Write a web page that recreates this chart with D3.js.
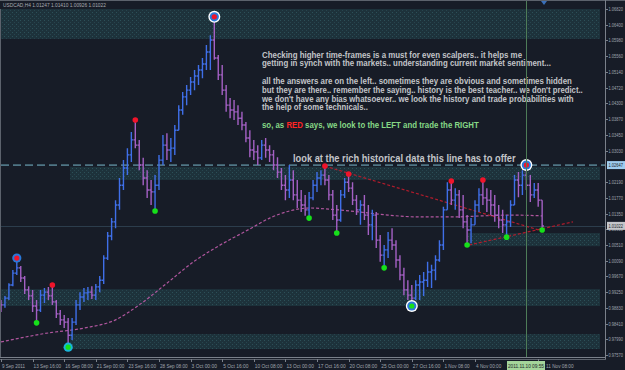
<!DOCTYPE html>
<html>
<head>
<meta charset="utf-8">
<script src="https://cdn.jsdelivr.net/npm/d3@7/dist/d3.min.js"></script>
<style>
body{margin:0;background:#171c27;overflow:hidden;}
svg text{font-family:"Liberation Sans",Arial,sans-serif;}
</style>
</head>
<body>
<div id="chart"></div>
<script>
/****************************** data ***************************************/
var symbolInfo = "USDCAD,H4  1.01247 1.01410 1.00926 1.01022";

// one entry per 8 hours, bar i sits on H4 slot 2*i (slot 0 = 9 Sep 2011 00:00)
var firstOpen = 0.9898;
var highs = [
 0.9904,0.9915,0.9949,0.9984,1.0016,0.9995,0.9968,0.9941,0.9931,0.9904,
 0.9931,0.9936,0.9939,0.9944,0.9904,0.9877,0.9864,0.9856,0.9856,0.9904,
 0.9925,0.9936,0.9939,0.9941,0.9947,0.9968,1.0024,1.0086,1.0123,1.0171,
 1.0230,1.0278,1.0310,1.0353,1.0385,1.0332,1.0284,1.0251,1.0225,1.0238,
 1.0292,1.0345,1.0350,1.0337,1.0372,1.0425,1.0460,1.0479,1.0500,1.0519,
 1.0532,1.0551,1.0586,1.0612,1.0661,1.0559,1.0532,1.0479,1.0444,1.0439,
 1.0425,1.0407,1.0380,1.0358,1.0332,1.0318,1.0332,1.0337,1.0318,1.0305,
 1.0286,1.0257,1.0238,1.0265,1.0251,1.0225,1.0198,1.0185,1.0193,1.0225,
 1.0246,1.0251,1.0262,1.0238,1.0198,1.0158,1.0198,1.0230,1.0241,1.0219,
 1.0185,1.0171,1.0185,1.0158,1.0145,1.0139,1.0078,1.0051,1.0086,1.0096,
 1.0064,1.0024,0.9990,0.9957,0.9944,0.9957,0.9971,0.9979,1.0006,0.9998,
 1.0024,1.0064,1.0153,1.0219,1.0222,1.0203,1.0198,1.0185,1.0131,1.0123,
 1.0171,1.0203,1.0225,1.0203,1.0198,1.0185,1.0158,1.0145,1.0131,1.0171,
 1.0238,1.0246,1.0251,1.0265,1.0238,1.0217,1.0217,1.0171];
var lows = [
 0.9872,0.9883,0.9904,0.9941,0.9971,0.9952,0.9920,0.9904,0.9872,0.9843,
 0.9872,0.9896,0.9904,0.9891,0.9856,0.9837,0.9829,0.9778,0.9797,0.9837,
 0.9877,0.9899,0.9904,0.9907,0.9904,0.9925,0.9947,1.0011,1.0064,1.0096,
 1.0145,1.0198,1.0238,1.0273,1.0310,1.0251,1.0211,1.0177,1.0158,1.0142,
 1.0198,1.0265,1.0278,1.0273,1.0292,1.0358,1.0399,1.0425,1.0452,1.0465,
 1.0479,1.0497,1.0519,1.0519,1.0546,1.0492,1.0452,1.0407,1.0390,1.0385,
 1.0372,1.0358,1.0326,1.0286,1.0278,1.0265,1.0278,1.0284,1.0273,1.0251,
 1.0230,1.0198,1.0171,1.0177,1.0171,1.0150,1.0139,1.0129,1.0123,1.0171,
 1.0193,1.0211,1.0211,1.0171,1.0118,1.0083,1.0113,1.0177,1.0193,1.0158,
 1.0131,1.0105,1.0118,1.0078,1.0064,1.0043,1.0006,0.9990,1.0016,1.0038,
 0.9990,0.9957,0.9917,0.9904,0.9888,0.9904,0.9904,0.9915,0.9939,0.9936,
 0.9957,1.0006,1.0038,1.0145,1.0158,1.0145,1.0123,1.0096,1.0051,1.0056,
 1.0105,1.0139,1.0158,1.0139,1.0131,1.0113,1.0096,1.0083,1.0072,1.0099,
 1.0158,1.0179,1.0185,1.0198,1.0166,1.0177,1.0153,1.0091];
var closes = [
 0.9891,0.9909,0.9944,0.9976,0.9990,0.9963,0.9931,0.9915,0.9888,0.9877,
 0.9917,0.9925,0.9915,0.9899,0.9867,0.9851,0.9845,0.9810,0.9845,0.9891,
 0.9912,0.9923,0.9925,0.9917,0.9939,0.9957,1.0016,1.0075,1.0113,1.0158,
 1.0211,1.0257,1.0292,1.0332,1.0318,1.0265,1.0230,1.0198,1.0193,1.0211,
 1.0278,1.0318,1.0305,1.0310,1.0358,1.0412,1.0447,1.0465,1.0487,1.0503,
 1.0519,1.0535,1.0567,1.0599,1.0551,1.0506,1.0465,1.0425,1.0412,1.0407,
 1.0390,1.0372,1.0337,1.0305,1.0300,1.0284,1.0318,1.0305,1.0292,1.0265,
 1.0246,1.0211,1.0198,1.0225,1.0185,1.0171,1.0158,1.0145,1.0177,1.0211,
 1.0230,1.0238,1.0225,1.0185,1.0131,1.0118,1.0185,1.0219,1.0203,1.0171,
 1.0145,1.0158,1.0131,1.0105,1.0131,1.0064,1.0024,1.0038,1.0064,1.0051,
 1.0011,0.9971,0.9931,0.9917,0.9909,0.9944,0.9952,0.9957,0.9979,0.9984,
 1.0011,1.0051,1.0145,1.0198,1.0171,1.0185,1.0145,1.0113,1.0091,1.0105,
 1.0158,1.0185,1.0177,1.0171,1.0158,1.0131,1.0118,1.0105,1.0113,1.0158,
 1.0225,1.0211,1.0238,1.0211,1.0185,1.0198,1.0171,1.0102];

// moving average (H4 slot, price)
var maSlots  = [0, 24, 42, 58, 70, 84, 98, 110, 126, 136, 146, 156, 166, 182, 196, 212, 228, 244, 258, 274];
var maValues = [0.9792,0.9816,0.9829,0.9851,0.9891,0.9949,1.0008,1.0048,1.0094,1.0123,
                1.0142,1.0150,1.0147,1.0139,1.0131,1.0126,1.0126,1.0129,1.0131,1.0129];

// fractal marks (index into the bar arrays)
var peakBars = [4, 13, 34, 54, 82, 88, 114, 122, 133];
var ringedPeaks = [4, 54, 133];
var troughBars = [9, 17, 39, 78, 85, 97, 104, 118, 128, 137];
var ringedTroughs = [17, 104];

// support / resistance boxes
var zoneTop    = [1.0682, 1.0260, 1.0083, 0.9933, 0.9813];
var zoneBottom = [1.0602, 1.0225, 1.0048, 0.9888, 0.9773];
var zoneFrom   = [0, 35, 236.5, 0, 35];
var zoneTo     = [303.3, 303.3, 303.3, 303.3, 303.3];

// dashed red trend lines [slot, price]
var trendLines = [
 [[164, 1.0262], [275.6, 1.0086]],
 [[237, 1.0051], [289.6, 1.0113]]
];

var levelPrice = 1.02647;
var bidPrice = 1.01022;
var crossSlot = 266;
var crossLabel = "2011.11.10 09:55";

// 1.02610 sits under the level tag and is not shown
var priceTicks = [0.97570,0.97990,0.98410,0.98830,0.99250,0.99670,1.00090,1.00510,1.00930,1.01350,
                  1.01770,1.02190,1.03030,1.03450,1.03870,1.04300,1.04720,1.05140,1.05560,
                  1.05980,1.06400,1.06820];
var timeSlots  = [0,16,32,48,64,80,96,112,128,144,160,176,192,208,224,240,272];
var timeLabels = ["9 Sep 2011","13 Sep 16:00","16 Sep 08:00","21 Sep 00:00","23 Sep 16:00","28 Sep 08:00",
                  "3 Oct 00:00","5 Oct 16:00","10 Oct 08:00","13 Oct 00:00","17 Oct 16:00","20 Oct 08:00",
                  "25 Oct 00:00","27 Oct 16:00","1 Nov 08:00","4 Nov 00:00","11 Nov 08:00"];

var noteLines = [
 "Checking higher time-frames is a must for even scalpers.. it helps me",
 "getting in synch with the markets.. understanding current market sentiment...",
 "",
 "all the answers are on the left.. sometimes they are obvious and sometimes hidden",
 "but they are there.. remember the saying.. history is the best teacher.. we don't predict..",
 "we don't have any bias whatsoever.. we look the history and trade probabilities with",
 "the help of some technicals.."
];
var noteWidths = [260, 289, 0, 310, 321, 312, 106];

/****************************** draw chart ***************************************/
var width = 625,
	height = 370;

var svg = d3.select("#chart").append("svg")
	.attr("width", width)
	.attr("height", height)
	.style("background-color", "#171c27");

var x = d3.scaleLinear().domain([0, 306]).range([1, 605.35]);
var y = d3.scaleLinear().domain([0.9757, 1.0682]).range([355, 9]);

// squeeze a text horizontally so it spans w pixels (the screenshot is narrow)
function squeeze(sel, px, py, w) {
	sel.each(function(d, i) {
		var t = d3.select(this),
			ww = typeof w === "function" ? w(d, i) : w,
			xx = typeof px === "function" ? px(d, i) : px,
			yy = typeof py === "function" ? py(d, i) : py,
			k = ww / this.getComputedTextLength();
		t.attr("transform", "translate(" + xx + "," + yy + ") scale(" + k + ",1)");
	});
}

var defs = svg.append("defs");
var pat = defs.append("pattern").attr("id", "zoneDots")
	.attr("width", 4).attr("height", 4).attr("patternUnits", "userSpaceOnUse");
pat.append("rect").attr("width", 4).attr("height", 4).attr("fill", "#1d323b");
pat.append("rect").attr("x", 0).attr("y", 0).attr("width", 1).attr("height", 1).attr("fill", "#2c5058");
pat.append("rect").attr("x", 2).attr("y", 2).attr("width", 1).attr("height", 1).attr("fill", "#27454e");

var clip = defs.append("clipPath").attr("id", "plot");
clip.append("rect").attr("x", 1).attr("y", 9).attr("width", 604).attr("height", 348);

var plot = svg.append("g").attr("clip-path", "url(#plot)");

// zones
plot.selectAll(".zone")
	.data(zoneTop)
	.enter().append("rect")
	.attr("class", "zone")
	.attr("x", function(d, i) { return x(zoneFrom[i]); })
	.attr("width", function(d, i) { return x(zoneTo[i]) - x(zoneFrom[i]); })
	.attr("y", function(d) { return y(d); })
	.attr("height", function(d, i) { return y(zoneBottom[i]) - y(d); })
	.style("fill", "url(#zoneDots)");

// bid line and dashed level
plot.append("line")
	.attr("x1", 1).attr("x2", 605)
	.attr("y1", Math.round(y(bidPrice)) + 0.5).attr("y2", Math.round(y(bidPrice)) + 0.5)
	.style("stroke", "#2c3d4c").style("stroke-width", 1);
plot.append("line")
	.attr("x1", 1).attr("x2", 605)
	.attr("y1", y(levelPrice)).attr("y2", y(levelPrice))
	.style("stroke", "#4f7585").style("stroke-width", 1.6)
	.style("stroke-dasharray", "8,4");

// moving average
var maLine = d3.line()
	.x(function(d, i) { return x(maSlots[i]); })
	.y(function(d) { return y(d); })
	.curve(d3.curveMonotoneX);
plot.append("path")
	.datum(maValues)
	.attr("d", maLine)
	.style("fill", "none")
	.style("stroke", "#b0569e")
	.style("stroke-width", 1.2)
	.style("stroke-dasharray", "3,2");

// trend lines
plot.selectAll(".trend")
	.data(trendLines)
	.enter().append("line")
	.attr("class", "trend")
	.attr("x1", function(d) { return x(d[0][0]); })
	.attr("y1", function(d) { return y(d[0][1]); })
	.attr("x2", function(d) { return x(d[1][0]); })
	.attr("y2", function(d) { return y(d[1][1]); })
	.style("stroke", "#b01c2c")
	.style("stroke-width", 1.2)
	.style("stroke-dasharray", "3,2");

// bars
var bars = closes.map(function(c, i) {
	return {slot: i * 2, o: i ? closes[i - 1] : firstOpen, h: highs[i], l: lows[i], c: c};
});
plot.selectAll(".bar")
	.data(bars)
	.enter().append("path")
	.attr("class", "bar")
	.style("fill", "none")
	.style("stroke", function(d) { return d.c >= d.o ? "#3f6fe8" : "#a460c4"; })
	.style("stroke-width", 1.4)
	.attr("d", function(d) {
		var cx = x(d.slot);
		return "M" + cx + "," + y(d.h) + "V" + y(d.l)
			+ "M" + (cx - 1.8) + "," + y(d.o) + "H" + cx
			+ "M" + cx + "," + y(d.c) + "H" + (cx + 1.8);
	});

// ringed fractals
function ring(list, arr, fill) {
	var g = plot.selectAll(null)
		.data(list)
		.enter().append("g")
		.attr("transform", function(k) { return "translate(" + x(k * 2) + "," + y(arr[k]) + ")"; });
	g.append("circle").attr("r", 6).style("fill", function(k) { return k === 4 || k === 17 ? "none" : "#ffffff"; });
	g.append("circle").attr("r", 4.6).style("fill", function(k) { return k === 17 ? "#19b4d8" : "#2a78d8"; });
	g.append("circle").attr("r", 2.6).style("fill", fill);
}

plot.selectAll(".peak")
	.data(peakBars.filter(function(k) { return ringedPeaks.indexOf(k) < 0; }))
	.enter().append("circle")
	.attr("class", "peak")
	.attr("cx", function(k) { return x(k * 2); })
	.attr("cy", function(k) { return y(highs[k]); })
	.attr("r", 2.8)
	.style("fill", "#f0142a");

plot.selectAll(".trough")
	.data(troughBars.filter(function(k) { return ringedTroughs.indexOf(k) < 0; }))
	.enter().append("circle")
	.attr("class", "trough")
	.attr("cx", function(k) { return x(k * 2); })
	.attr("cy", function(k) { return y(lows[k]); })
	.attr("r", 2.8)
	.style("fill", "#16e01a");

ring(ringedPeaks, highs, "#f0142a");
ring(ringedTroughs, lows, "#16e01a");

// notes
var notes = svg.append("g").style("font-size", "8.6px").style("font-weight", "bold").style("fill", "#c2c4c8");
noteLines.forEach(function(t, i) {
	if (!t) return;
	notes.append("text").text(t)
		.call(squeeze, 262, 57.5 + i * 8.8, noteWidths[i]);
});

var so = svg.append("text")
	.style("font-size", "8.6px").style("font-weight", "bold").style("fill", "#86d886");
so.append("tspan").text("so, as ");
so.append("tspan").style("fill", "#ff2424").text("RED");
so.append("tspan").text(" says, we look to the LEFT and trade the RIGHT");
so.call(squeeze, 262, 128, 217);

svg.append("text")
	.style("font-size", "10.5px").style("font-weight", "bold").style("fill", "#c2c4c8")
	.text("look at the rich historical data this line has to offer")
	.call(squeeze, 293, 161.5, 223);

// crosshair
svg.append("line")
	.attr("x1", Math.round(x(crossSlot)) + 0.5).attr("x2", Math.round(x(crossSlot)) + 0.5)
	.attr("y1", 0).attr("y2", 357)
	.style("stroke", "#4e7c58").style("stroke-width", 1);

// frame
svg.append("line").attr("x1", 0).attr("x2", 625).attr("y1", 0.5).attr("y2", 0.5)
	.style("stroke", "#5c626c");
svg.append("line").attr("x1", 0.5).attr("x2", 0.5).attr("y1", 9).attr("y2", 357)
	.style("stroke", "#5c626c");
svg.append("line").attr("x1", 605.5).attr("x2", 605.5).attr("y1", 0).attr("y2", 360)
	.style("stroke", "#7a808a");
svg.append("line").attr("x1", 0).attr("x2", 606).attr("y1", 357.5).attr("y2", 357.5)
	.style("stroke", "#7a808a");
svg.append("line").attr("x1", 0).attr("x2", 606).attr("y1", 359.5).attr("y2", 359.5)
	.style("stroke", "#5c626c");

// shift marker
svg.append("path").attr("d", "M541,1H547L544,5Z").style("fill", "#3a6fb8");

svg.append("text")
	.style("font-size", "6px").style("fill", "#a8acb2")
	.text(symbolInfo)
	.call(squeeze, 3, 7, 103);

// price axis
var pa = svg.append("g");
pa.selectAll(".ptick")
	.data(priceTicks)
	.enter().append("line")
	.attr("x1", 605).attr("x2", 608)
	.attr("y1", function(d) { return Math.round(y(d)) + 0.5; })
	.attr("y2", function(d) { return Math.round(y(d)) + 0.5; })
	.style("stroke", "#7a808a");
pa.selectAll(".plabel")
	.data(priceTicks)
	.enter().append("text")
	.style("font-size", "5.8px").style("fill", "#a0a6ae")
	.text(function(d) { return d3.format(".5f")(d); })
	.call(squeeze, 608.5, function(d) { return y(d) + 2; }, 14.5);

function priceTag(p, bg) {
	pa.append("rect").attr("x", 607).attr("y", y(p) - 4).attr("width", 18).attr("height", 8).style("fill", bg);
	pa.append("text")
		.style("font-size", "5.8px").style("fill", "#1a1e28")
		.text(d3.format(".5f")(p))
		.call(squeeze, 608.5, y(p) + 2, 14.5);
}
priceTag(levelPrice, "#9fcdf0");
priceTag(bidPrice, "#c4c6ca");

// time axis
var ta = svg.append("g");
ta.selectAll(".ttick")
	.data(timeSlots)
	.enter().append("line")
	.attr("x1", function(d) { return Math.round(x(d)) + 0.5; })
	.attr("x2", function(d) { return Math.round(x(d)) + 0.5; })
	.attr("y1", 359).attr("y2", 362)
	.style("stroke", "#7a808a");
ta.selectAll(".tlabel")
	.data(timeSlots)
	.enter().append("text")
	.style("font-size", "6px").style("fill", "#a0a6ae")
	.text(function(d, i) { return timeLabels[i]; })
	.call(squeeze,
		function(d) { return Math.max(x(d) + 1, d > crossSlot ? 546 : 0); },
		368,
		function(d, i) { return timeLabels[i].length * 2.3; });

ta.append("rect").attr("x", 507).attr("y", 361).attr("width", 38).attr("height", 9).style("fill", "#a4d49a");
ta.append("text")
	.style("font-size", "6px").style("fill", "#1a1e28")
	.text(crossLabel)
	.call(squeeze, 508, 368, 36);
</script>
</body>
</html>
